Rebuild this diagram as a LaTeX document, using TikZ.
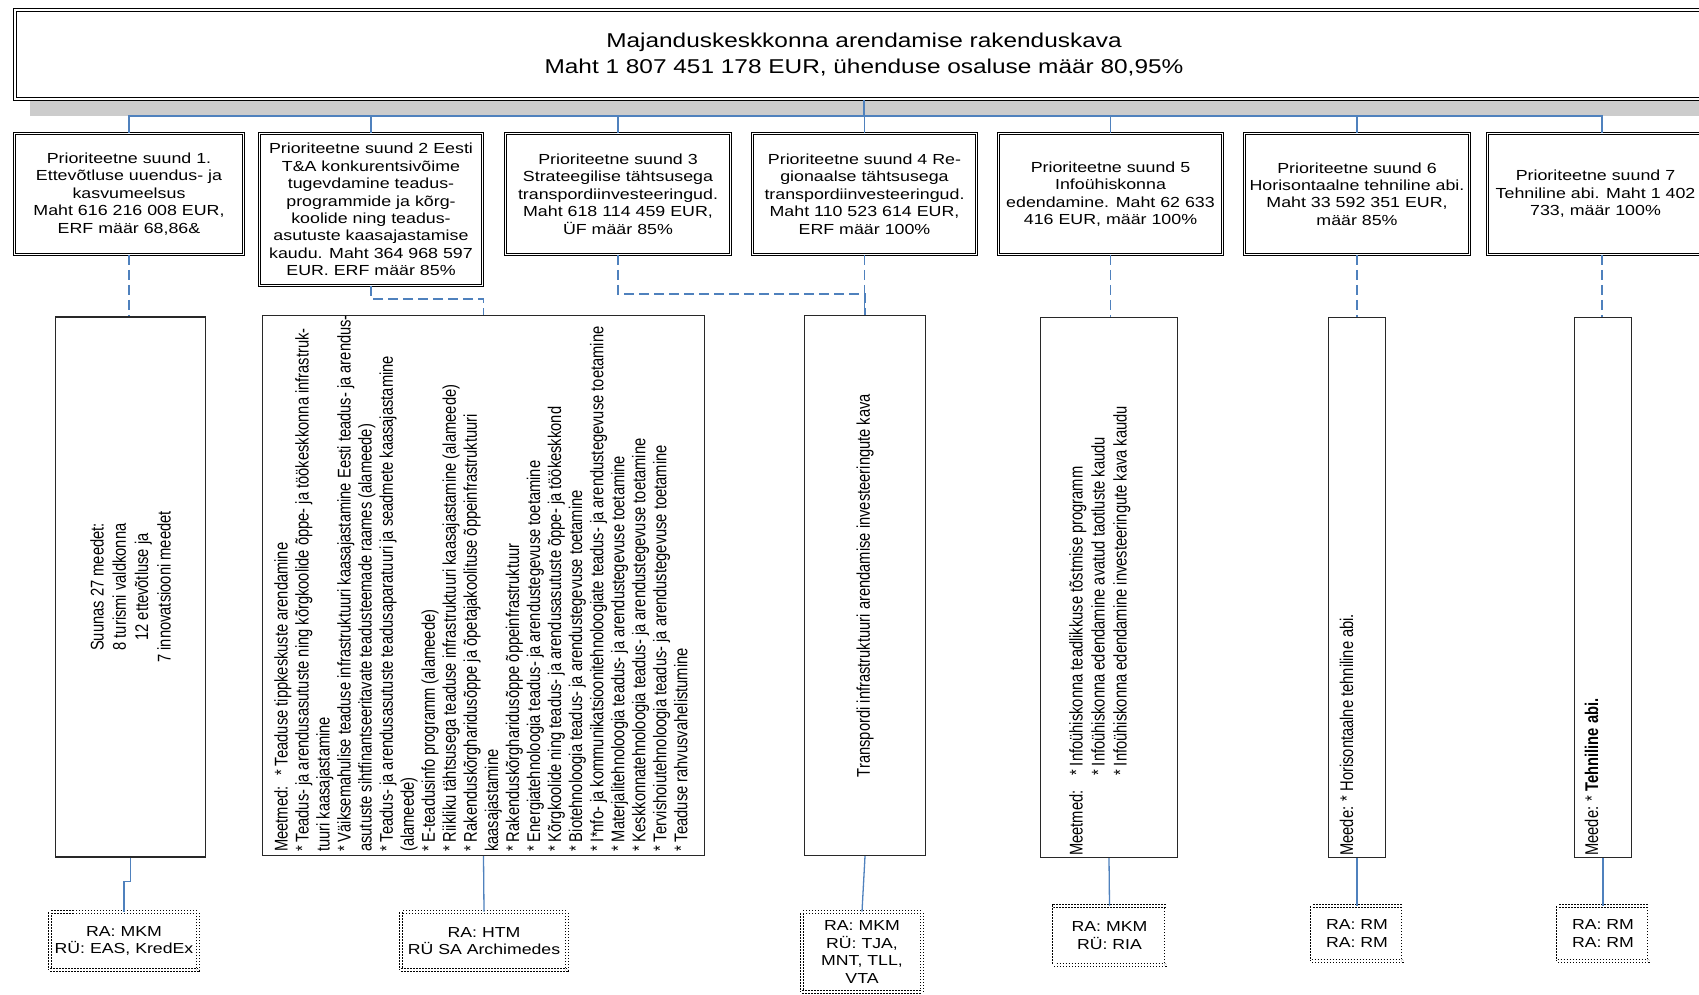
\documentclass[tikz,border=0pt]{standalone}
\usepackage{fontspec}
\newfontfamily\hfont[FakeStretch=1.22]{Liberation Sans}
\newfontfamily\vfont[FakeStretch=0.80]{Liberation Sans}
\usetikzlibrary{calc}
\definecolor{sinineJoon}{RGB}{79,129,189}
\definecolor{halliVari}{RGB}{204,204,204}
\definecolor{tumeRaam}{RGB}{40,40,40}

\begin{document}
\begin{tikzpicture}[x=1pt, y=-1pt,
    peaKast/.style={draw=black, double, double distance=2pt, line width=1pt, fill=white, inner sep=0pt, align=center, font=\hfont\fontsize{20}{26}\selectfont},
    suundKast/.style={draw=black, double, double distance=1.8pt, line width=0.9pt, fill=white, inner sep=0pt, align=center, minimum height=121pt, font=\hfont\fontsize{14.6}{17.4}\selectfont},
    meedeKast/.style={draw=tumeRaam, line width=1.3pt, minimum height=540pt, inner sep=0pt},
    meedeTekst/.style={rotate=90, inner sep=0pt, font=\vfont\fontsize{18.4}{21.05}\selectfont},
    raKast/.style={draw=black, dash pattern=on 1.5pt off 1.5pt, double, double distance=2pt, line width=0.9pt, inner sep=0pt, align=center, font=\hfont\fontsize{14.5}{17.5}\selectfont},
    pidevJoon/.style={draw=sinineJoon, line width=1.3pt},
    katkJoon/.style={draw=sinineJoon, line width=1.3pt, dash pattern=on 10pt off 5pt}]
    \useasboundingbox (0,0) rectangle (1699,995);

    % Peakast koos varjuga
    \fill[halliVari] (30,24) rectangle (1732,116);
    \node[peaKast, minimum width=1699pt, minimum height=89pt] (pea) at (864,55)
        {Majanduskeskkonna arendamise rakenduskava\\Maht 1 807 451 178 EUR, ühenduse osaluse määr 80,95\%};

    % Prioriteetsed suunad
    \node[suundKast, minimum width=229pt] (p1) at (129,194) {Prioriteetne suund 1.\\Ettevõtluse uuendus- ja\\kasvumeelsus\\Maht 616 216 008 EUR,\\ERF määr 68,86\&};
    \node[suundKast, minimum width=223pt, minimum height=152pt] (p2) at (371,209.5) {Prioriteetne suund 2 Eesti\\T\&A konkurentsivõime\\tugevdamine teadus-\\programmide ja kõrg-\\koolide ning teadus-\\asutuste kaasajastamise\\kaudu. Maht 364 968 597\\EUR. ERF määr 85\%};
    \node[suundKast, minimum width=225pt] (p3) at (618,194) {Prioriteetne suund 3\\Strateegilise tähtsusega\\transpordiinvesteeringud.\\Maht 618 114 459 EUR,\\ÜF määr 85\%};
    \node[suundKast, minimum width=224pt] (p4) at (864.5,194) {Prioriteetne suund 4 Re-\\gionaalse tähtsusega\\transpordiinvesteeringud.\\Maht 110 523 614 EUR,\\ERF määr 100\%};
    \node[suundKast, minimum width=224pt] (p5) at (1110.5,194) {Prioriteetne suund 5\\Infoühiskonna\\edendamine. Maht 62 633\\416 EUR, määr 100\%};
    \node[suundKast, minimum width=225pt] (p6) at (1357,194) {Prioriteetne suund 6\\Horisontaalne tehniline abi.\\Maht 33 592 351 EUR,\\määr 85\%};
    \node[suundKast, minimum width=216pt] (p7) at (1595.5,194) {Prioriteetne suund 7\\Tehniline abi. Maht 1 402\\733, määr 100\%};

    % Ühendused peakastist
    \coordinate (siin) at (864,116);
    \coordinate (d7) at (1602,116);
    \draw[pidevJoon] (pea.south) -- (siin);
    \foreach \i in {1,...,6}
        \draw[pidevJoon] (p\i.north) |- (siin);
    \draw[pidevJoon] (d7 |- p7.north) |- (siin);

    % Meetmete kastid
    \node[meedeKast, minimum width=150pt] (m1) at (130.5,587) {};
    \node[meedeKast, minimum width=442pt] (m2) at (483.5,585.5) {};
    \node[meedeKast, minimum width=121pt] (m3) at (865,585.5) {};
    \node[meedeKast, minimum width=137pt] (m4) at (1109,587.5) {};
    \node[meedeKast, minimum width=57pt] (m5) at (1357,587.5) {};
    \node[meedeKast, minimum width=57pt] (m6) at (1603,587.5) {};

    \node[meedeTekst, align=center, font=\vfont\fontsize{18.4}{22.3}\selectfont] (t1) at (m1) {Suunas 27 meedet:\\8 turismi valdkonna\\12 ettevõtluse ja\\7 innovatsiooni meedet};
    \node[meedeTekst, anchor=north west, align=left] (t2) at (274,852) {\makebox[76pt][l]{Meetmed:}* Teaduse tippkeskuste arendamine\\
        * Teadus- ja arendusasutuste ning kõrgkoolide õppe- ja töökeskkonna infrastruk-\\
        tuuri kaasajastamine\\
        * Väiksemahulise teaduse infrastruktuuri kaasajastamine Eesti teadus- ja arendus-\\
        asutuste sihtfinantseeritavate teadusteemade raames (alameede)\\
        * Teadus- ja arendusasutuste teadusaparatuuri ja seadmete kaasajastamine\\
        (alameede)\\
        * E-teadusinfo programm (alameede)\\
        * Riikliku tähtsusega teaduse infrastruktuuri kaasajastamine (alameede)\\
        * Rakenduskõrgharidusõppe ja õpetajakoolituse õppeinfrastruktuuri\\
        kaasajastamine\\
        * Rakenduskõrgharidusõppe õppeinfrastruktuur\\
        * Energiatehnoloogia teadus- ja arendustegevuse toetamine\\
        * Kõrgkoolide ning teadus- ja arendusasutuste õppe- ja töökeskkond\\
        * Biotehnoloogia teadus- ja arendustegevuse toetamine\\
        * I*nfo- ja kommunikatsioonitehnoloogiate teadus- ja arendustegevuse toetamine\\
        * Materjalitehnoloogia teadus- ja arendustegevuse toetamine\\
        * Keskkonnatehnoloogia teadus- ja arendustegevuse toetamine\\
        * Tervishoiutehnoloogia teadus- ja arendustegevuse toetamine\\
        * Teaduse rahvusvahelistumine};
    \node[meedeTekst] (t3) at (m3) {Transpordi infrastruktuuri arendamise investeeringute kava};
    \node[meedeTekst, anchor=north west, align=left, font=\vfont\fontsize{18.4}{22}\selectfont] (t4) at (1069,856) {\makebox[80pt][l]{Meetmed:}* Infoühiskonna teadlikkuse  tõstmise programm\\
        \hspace*{80pt}* Infoühiskonna edendamine avatud taotluste kaudu\\
        \hspace*{80pt}* Infoühiskonna edendamine investeeringute kava kaudu};
    \node[meedeTekst, anchor=base west] (t5) at (1353,856) {Meede: * Horisontaalne tehniline abi.};
    \node[meedeTekst, anchor=base west] (t6) at (1598,856) {Meede: * \textbf{Tehniline abi.}};

    % Katkendjooned suundadest meetmeteni
    \draw[katkJoon] (p1.south) -- (p1.south |- m1.north);
    \draw[katkJoon] (p2.south) -- ++(0,13) -| (m2.north);
    \draw[katkJoon] (p3.south) -- ++(0,39) -| (m3.north);
    \draw[katkJoon] (p4.south) -- (p4.south |- m3.north);
    \draw[katkJoon] (p5.south) -- (p5.south |- m4.north);
    \draw[katkJoon] (p6.south) -- (m5.north);
    \draw[katkJoon] (d7 |- p7.south) -- (d7 |- m6.north);

    % Rakendusasutused
    \node[raKast, minimum width=148pt, minimum height=58pt] (ra1) at (124,941) {RA: MKM\\RÜ: EAS, KredEx};
    \node[raKast, minimum width=166pt, minimum height=58pt] (ra2) at (484,941) {RA: HTM\\RÜ SA Archimedes};
    \node[raKast, minimum width=120pt, minimum height=80pt] (ra3) at (862,952) {RA: MKM\\RÜ: TJA,\\MNT, TLL,\\VTA};
    \node[raKast, minimum width=112pt, minimum height=59pt] (ra4) at (1109.5,935.5) {RA: MKM\\RÜ: RIA};
    \node[raKast, minimum width=91pt, minimum height=55pt] (ra5) at (1357,933.5) {RA: RM\\RA: RM};
    \node[raKast, minimum width=91pt, minimum height=55pt] (ra6) at (1603,933.5) {RA: RM\\RA: RM};

    \draw[pidevJoon] (m1.south) -- ++(0,24) -| (ra1.north);
    \draw[pidevJoon] (m2.south) -- (ra2.north);
    \draw[pidevJoon] (m3.south) -- (ra3.north);
    \draw[pidevJoon] (m4.south) -- (ra4.north);
    \draw[pidevJoon] (m5.south) -- (ra5.north);
    \draw[pidevJoon] (m6.south) -- (ra6.north);
\end{tikzpicture}
\end{document}
